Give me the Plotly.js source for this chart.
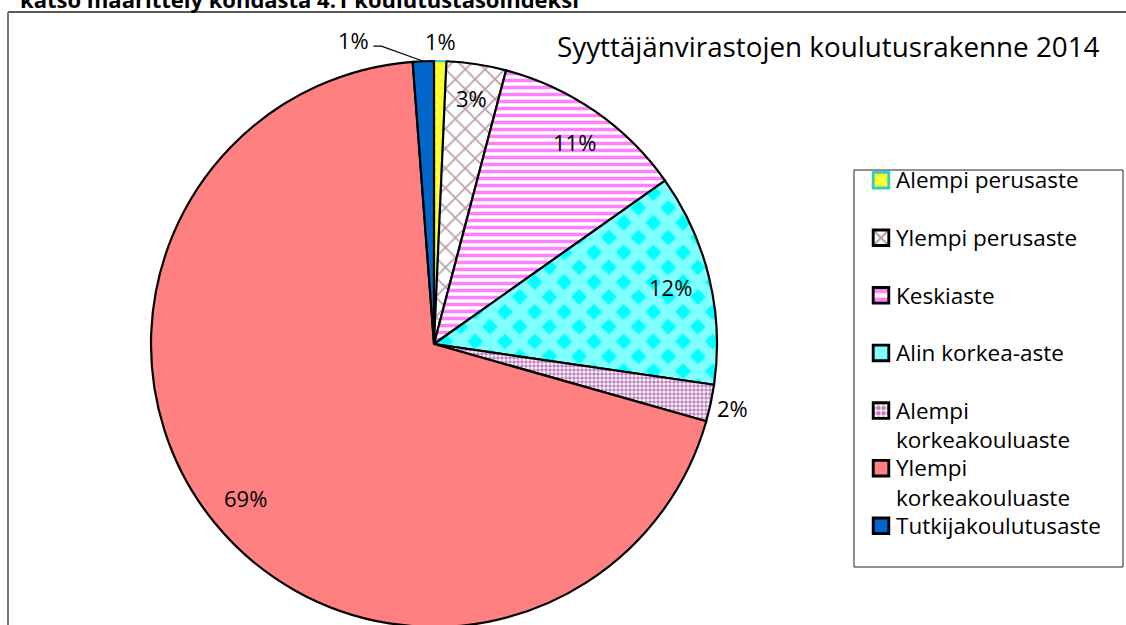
<!DOCTYPE html>
<html><head><meta charset="utf-8">
<script src="https://cdn.plot.ly/plotly-3.0.1.min.js"></script>
<style>
html,body{margin:0;padding:0;overflow:hidden;background:#fff}
#chart{width:1126px;height:640px}
#chart .legend .legendtext{font-size:22.5px !important}
#chart .legend .scrollbox{clip-path:none !important}
#chart .legend path.legendpie{transform:translate(25px,0px) scale(1.3) !important}
</style>
</head><body><div id="chart"></div>
<script>
// ---- data ----
const categories = ['Alempi perusaste','Ylempi perusaste','Keskiaste','Alin korkea-aste','Alempi<br>korkeakouluaste','Ylempi<br>korkeakouluaste','Tutkijakoulutusaste'];
const shares = [0.7, 3.4, 11.1, 12.1, 2.1, 69.4, 1.2];
const labelText = ['1%','3%','11%','12%','2%','69%','1%'];
const chartTitle = 'Syyttäjänvirastojen koulutusrakenne 2014';
const noteText = 'katso määrittely kohdasta 4.1 koulutustasoindeksi';

// ---- style ----
const W = 1126, H = 640;
const cx = 434, cy = 344, R = 283;
const labelRadius = [1.07, 0.88, 0.87, 0.86, 1.08, 0.86, null];
const FONT = '"Open Sans", Lato, sans-serif';

const bg = ['#FFFF00','#FFFFFF','#FFFFFF','#00FFFF','#FFFFFF','#FF8080','#0066CC'];
const fg = ['#FFFFFF','#7A3A56','#FF00FF','#FFFFFF','#800080','#FF8080','#0066CC'];
const shp = ['x','x','-','x','.','','' ];
const psize = [6,14,7,21,4,8,8];
const psol = [0.35,0.22,0.5,0.72,0.6,0.1,0.1];
const lineCol = ['#33CCCC','#000','#000','#000','#000','#000','#000'];

// legend names with equal two-line heights
const legendNames = categories.map(c => c.includes('<br>') ? c : c + '<br> ');

const trace = {
  type: 'pie',
  labels: legendNames,
  values: shares,
  sort: false,
  direction: 'clockwise',
  rotation: 0,
  textinfo: 'none',
  hoverinfo: 'label+percent',
  domain: {x: [(cx - R) / W, (cx + R) / W], y: [1 - (cy + R) / H, 1 - (cy - R) / H]},
  marker: {
    colors: bg,
    line: {color: lineCol, width: 2.2},
    pattern: {shape: shp, fgcolor: fg, bgcolor: bg, size: psize, solidity: psol, fillmode: 'overlay'}
  }
};

// label annotations computed from the data
const total = shares.reduce((a, b) => a + b, 0);
const annotations = [];
const shapes = [];
let cum = 0;
shares.forEach((v, i) => {
  const mid = (cum + v / 2) / total * 2 * Math.PI;
  cum += v;
  const s = Math.sin(mid), c = Math.cos(mid);
  if (labelRadius[i] !== null) {
    const px = cx + R * labelRadius[i] * s, py = cy - R * labelRadius[i] * c;
    annotations.push({x: px / W, y: 1 - py / H, xref: 'paper', yref: 'paper', text: labelText[i],
      showarrow: false, font: {family: FONT, size: 22, color: '#000'}, xanchor: 'center', yanchor: 'middle'});
  } else {
    // leader line for the last slice
    const ax = cx + R * s, ay = cy - R * c;
    const ex = ax - 42, ey = ay - 15;
    shapes.push({type: 'path', xref: 'paper', yref: 'paper',
      path: `M ${ax / W} ${1 - ay / H} L ${ex / W} ${1 - ey / H} L ${(ex - 8) / W} ${1 - ey / H}`,
      line: {color: '#000', width: 1.2}});
    annotations.push({x: (ex - 10) / W, y: 1 - (ey - 6) / H, xref: 'paper', yref: 'paper', text: labelText[i],
      showarrow: false, font: {family: FONT, size: 22, color: '#000'}, xanchor: 'right', yanchor: 'middle'});
  }
});

// cut-off note at the very top
annotations.push({x: 18 / W, y: 1 + 1 / H, xref: 'paper', yref: 'paper', text: '<b>' + noteText + '</b>',
  showarrow: false, font: {family: FONT, size: 22, color: '#000'}, xanchor: 'left', yanchor: 'middle'});

// frame
shapes.push({type: 'line', xref: 'paper', yref: 'paper', x0: 8 / W, x1: 1.01, y0: 1 - 12 / H, y1: 1 - 12 / H, line: {color: '#222', width: 1.3}});
shapes.push({type: 'line', xref: 'paper', yref: 'paper', x0: 8 / W, x1: 8 / W, y0: 1 - 12 / H, y1: -0.05, line: {color: '#777', width: 2}});
// legend box
shapes.push({type: 'rect', xref: 'paper', yref: 'paper', x0: 854 / W, x1: 1123 / W, y0: 1 - 567 / H, y1: 1 - 170 / H,
  line: {color: '#222', width: 1}, fillcolor: 'rgba(0,0,0,0)', layer: 'below'});

const layout = {
  width: W, height: H,
  margin: {l: 0, r: 0, t: 0, b: 0},
  paper_bgcolor: '#fff',
  showlegend: true,
  title: {text: chartTitle, xref: 'container', yref: 'container', x: 557 / W, xanchor: 'left', y: 1 - 47 / H, yanchor: 'middle',
    font: {family: FONT, size: 27.8, color: '#000'}},
  legend: {x: 856 / W, xanchor: 'left', y: 1 - 160 / H, yanchor: 'top', bgcolor: 'rgba(0,0,0,0)', borderwidth: 0,
    font: {family: FONT, size: 21, color: '#000'}, valign: 'top', traceorder: 'normal'},
  annotations: annotations,
  shapes: shapes
};

Plotly.newPlot('chart', [trace], layout, {displayModeBar: false, staticPlot: true});
</script>
</body></html>
